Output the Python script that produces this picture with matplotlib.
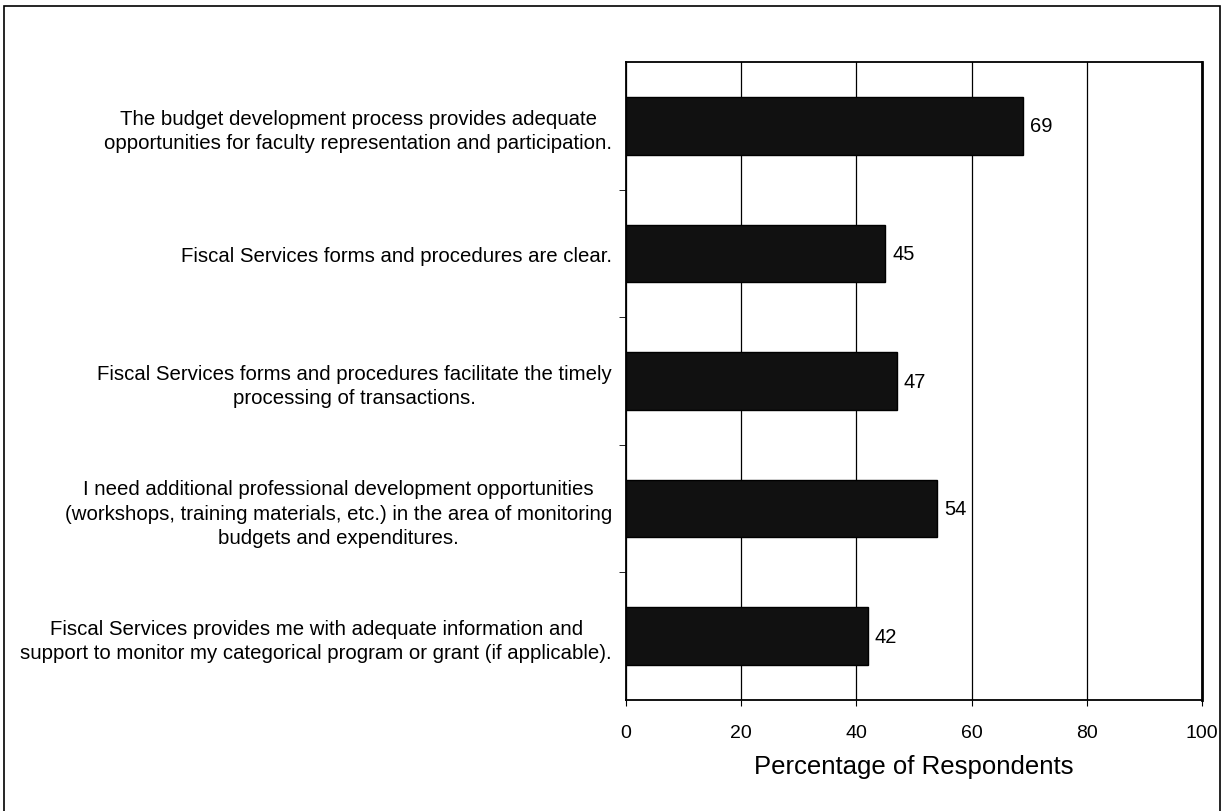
import matplotlib.pyplot as plt
from matplotlib.patches import Rectangle

plt.rcParams['font.family'] = ['Liberation Sans', 'DejaVu Sans']

statements = [
    "The budget development process provides adequate\nopportunities for faculty representation and participation.",
    "Fiscal Services forms and procedures are clear.",
    "Fiscal Services forms and procedures facilitate the timely\nprocessing of transactions.",
    "I need additional professional development opportunities\n(workshops, training materials, etc.) in the area of monitoring\nbudgets and expenditures.",
    "Fiscal Services provides me with adequate information and\nsupport to monitor my categorical program or grant (if applicable).",
]
percent_agree = [69, 45, 47, 54, 42]
x_ticks = [0, 20, 40, 60, 80, 100]

fig = plt.figure(figsize=(12.24, 8.12), dpi=100)
ax = fig.add_axes([0.5114, 0.1367, 0.4706, 0.7857])

# outer frame round the whole chart
fig.patches.append(Rectangle((0.0035, -0.01), 0.9935, 1.001, transform=fig.transFigure,
                             fill=False, edgecolor='black', linewidth=1.2))

pos = list(range(len(statements)))
bars = ax.barh(pos, percent_agree, height=0.45, color='#111111', edgecolor='black', zorder=3)
for b, v in zip(bars, percent_agree):
    ax.text(b.get_width() + 1.2, b.get_y() + b.get_height() / 2, str(v),
            va='center', ha='left', fontsize=14.5)

ax.set_xlim(0, 100)
ax.set_ylim(len(statements) - 0.5, -0.5)
ax.set_xticks(x_ticks)
ax.tick_params(axis='x', labelsize=14, direction='out', length=4, pad=13)

ax.set_yticks(pos)
ax.set_yticklabels(statements, fontsize=14.7, multialignment='center', linespacing=1.35)
ax.tick_params(axis='y', which='major', length=0, pad=10)
ax.set_yticks([p + 0.5 for p in pos[:-1]], minor=True)
ax.tick_params(axis='y', which='minor', direction='out', length=5)

ax.grid(axis='x', color='black', linewidth=0.9, zorder=0)
for s in ax.spines.values():
    s.set_linewidth(1.3)
ax.spines['right'].set_linewidth(2)

ax.set_xlabel('Percentage of Respondents', fontsize=18.5, labelpad=10)

fig.savefig('out.png', dpi=100)
